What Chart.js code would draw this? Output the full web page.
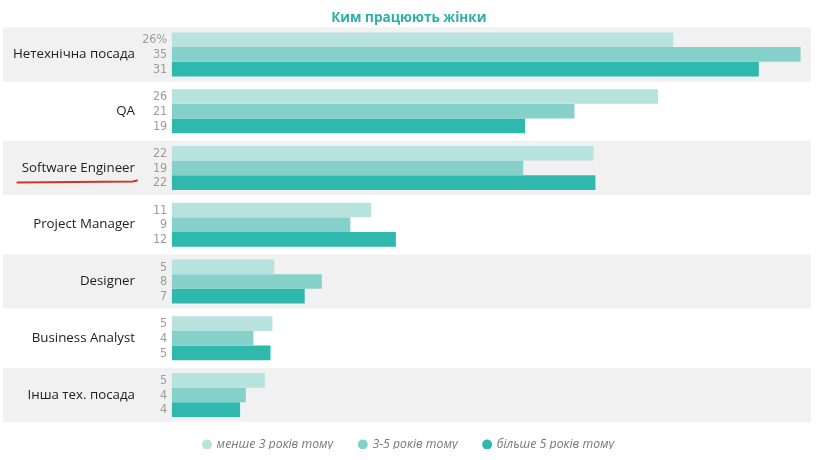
<!DOCTYPE html>
<html><head><meta charset="utf-8">
<script src="https://cdn.jsdelivr.net/npm/chart.js@4/dist/chart.umd.min.js"></script>
<style>html,body{margin:0;padding:0;background:#fff}</style>
</head><body>
<canvas id="c" width="820" height="460"></canvas>
<script>
// ---- data ----
const chartTitle = 'Ким працюють жінки';
const categories = ['Нетехнічна посада', 'QA', 'Software Engineer', 'Project Manager', 'Designer', 'Business Analyst', 'Інша тех. посада'];
const seriesNames = ['менше 3 років тому', '3-5 років тому', 'більше 5 років тому'];
// bar values (%)
const lessThan3 = [26.4, 25.6, 22.2, 10.5, 5.4, 5.3, 4.9];
const from3to5 = [33.1, 21.2, 18.5, 9.4, 7.9, 4.3, 3.9];
const moreThan5 = [30.9, 18.6, 22.3, 11.8, 7.0, 5.2, 3.6];
// printed value labels
const labelsLessThan3 = ['26%', '26', '22', '11', '5', '5', '5'];
const labelsFrom3to5 = ['35', '21', '19', '9', '8', '4', '4'];
const labelsMoreThan5 = ['31', '19', '22', '12', '7', '5', '4'];
const highlighted = 'Software Engineer';

const colors = ['#b8e2de', '#85d1ca', '#2eb8ae'];
const valueLabels = [labelsLessThan3, labelsFrom3to5, labelsMoreThan5];
const FONT = "'Open Sans', 'Noto Sans', sans-serif";
const NARROW = "'Liberation Sans Narrow', 'DejaVu Sans Condensed', sans-serif";

const bandsPlugin = {
  id: 'bands',
  beforeDraw(chart) {
    const {ctx} = chart;
    const y = chart.scales.y;
    const pitch = Math.abs(y.getPixelForValue(1) - y.getPixelForValue(0));
    ctx.save();
    ctx.fillStyle = '#f1f1f1';
    categories.forEach((c, i) => {
      if (i % 2 === 0) {
        const cy = y.getPixelForValue(i);
        ctx.fillRect(3, cy - pitch * 0.476, chart.width - 12, pitch * 0.952);
      }
    });
    ctx.restore();
  }
};

const valueLabelPlugin = {
  id: 'valueLabels',
  afterDatasetsDraw(chart) {
    const {ctx} = chart;
    ctx.save();
    ctx.font = '12.5px ' + NARROW;
    ctx.fillStyle = '#9c9c9c';
    ctx.textAlign = 'right';
    ctx.textBaseline = 'middle';
    chart.data.datasets.forEach((ds, di) => {
      const meta = chart.getDatasetMeta(di);
      meta.data.forEach((bar, i) => {
        ctx.fillText(valueLabels[di][i], chart.chartArea.left - 4.5, bar.y + 0.5);
      });
    });
    ctx.restore();
  }
};

const underlinePlugin = {
  id: 'underline',
  afterDraw(chart) {
    const {ctx} = chart;
    const idx = categories.indexOf(highlighted);
    const cy = chart.scales.y.getPixelForValue(idx);
    ctx.save();
    ctx.strokeStyle = '#d3322b';
    ctx.lineWidth = 2;
    ctx.lineCap = 'round';
    ctx.beginPath();
    ctx.moveTo(17.5, cy + 14.5);
    ctx.lineTo(133, cy + 13.6);
    ctx.lineTo(137, cy + 12.6);
    ctx.stroke();
    ctx.restore();
  }
};

const legendShiftPlugin = {
  id: 'legendShift',
  afterLayout(chart) {
    const lg = chart.legend;
    if (lg) { lg.top -= 11; lg.bottom -= 11; }
  }
};

new Chart(document.getElementById('c'), {
  type: 'bar',
  data: {
    labels: categories,
    datasets: [
      {label: seriesNames[0], data: lessThan3, backgroundColor: colors[0], borderWidth: 0},
      {label: seriesNames[1], data: from3to5, backgroundColor: colors[1], borderWidth: 0},
      {label: seriesNames[2], data: moreThan5, backgroundColor: colors[2], borderWidth: 0}
    ]
  },
  options: {
    indexAxis: 'y',
    responsive: false,
    animation: false,
    layout: {padding: {left: 0, right: 2.3, top: 0, bottom: 0}},
    datasets: {bar: {categoryPercentage: 0.776, barPercentage: 1}},
    scales: {
      x: {display: false, min: 0, max: 34},
      y: {
        grid: {display: false, drawTicks: false},
        border: {display: false},
        ticks: {padding: 36.7, color: '#222', font: {family: FONT, size: 13.3}},
        afterFit(scale) {
          scale.width = 171.7;
          scale.paddingTop = 0;
          scale.paddingBottom = 0;
        }
      }
    },
    plugins: {
      title: {
        display: true, text: chartTitle, color: '#2cb0a6',
        font: {family: FONT, size: 13.6, weight: 'bold'},
        padding: {top: 9.7, bottom: 0}
      },
      legend: {
        position: 'bottom',
        maxHeight: 36.6,
        labels: {
          usePointStyle: true, pointStyle: 'circle', boxWidth: 7, boxHeight: 7,
          padding: 26, color: '#777',
          font: {family: FONT, size: 12.3, style: 'italic'}
        }
      },
      tooltip: {enabled: false}
    }
  },
  plugins: [bandsPlugin, valueLabelPlugin, underlinePlugin, legendShiftPlugin]
});
</script>
</body></html>
